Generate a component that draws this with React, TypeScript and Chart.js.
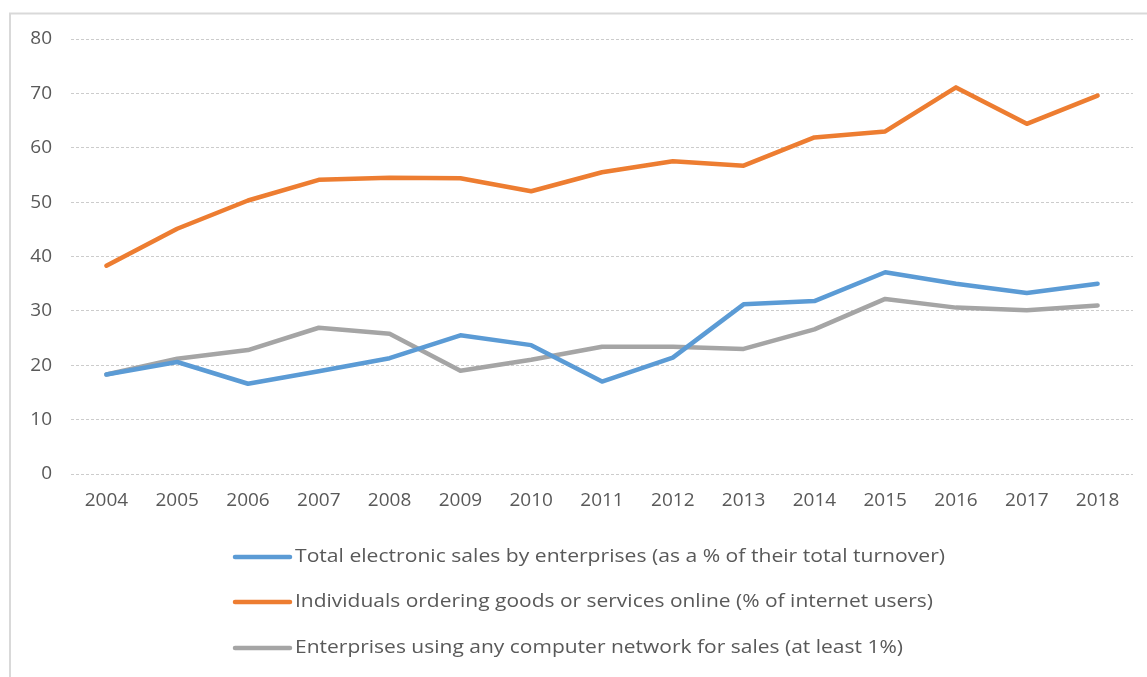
import React, { useEffect, useRef } from "react";
import { Chart, registerables } from "chart.js";

Chart.register(...registerables);

const years = ["2004", "2005", "2006", "2007", "2008", "2009", "2010", "2011", "2012", "2013", "2014", "2015", "2016", "2017", "2018"];
const electronicSales = [18.3, 20.6, 16.6, 18.9, 21.3, 25.5, 23.7, 17.0, 21.4, 31.2, 31.8, 37.1, 35.0, 33.3, 35.0];
const individualsOnline = [38.3, 45.1, 50.3, 54.1, 54.5, 54.4, 52.0, 55.5, 57.5, 56.7, 61.9, 63.0, 71.1, 64.4, 69.6];
const enterprisesNetwork = [18.3, 21.2, 22.8, 26.9, 25.8, 19.0, 21.0, 23.4, 23.4, 23.0, 26.6, 32.2, 30.6, 30.1, 31.0];
const seriesLabels = [
  "Total electronic sales by enterprises (as a % of their total turnover)",
  "Individuals ordering goods or services online (% of internet users)",
  "Enterprises using any computer network for sales (at least 1%)",
];
const seriesColors = ["#5B9BD5", "#ED7D31", "#A5A5A5"];
const yMin = 0;
const yMax = 80;
const yStep = 10;

const TEXT_COLOR = "#595959";
const FONT_FAMILY = '"Open Sans", "Noto Sans", sans-serif';

const framePlugin = {
  id: "frame",
  beforeDraw(chart: any) {
    const ctx = chart.ctx;
    ctx.save();
    ctx.fillStyle = "#ffffff";
    ctx.fillRect(0, 0, chart.width, chart.height);
    ctx.strokeStyle = "#d9d9d9";
    ctx.lineWidth = 2;
    ctx.beginPath();
    ctx.moveTo(10, chart.height);
    ctx.lineTo(10, 13.5);
    ctx.lineTo(chart.width, 13.5);
    ctx.stroke();
    ctx.restore();
  },
};

const legendRowsY = [557, 602, 648];
const legendTextWidths = [650, 638, 608];

const legendPlugin = {
  id: "customLegend",
  afterDraw(chart: any) {
    const ctx = chart.ctx;
    ctx.save();
    chart.data.datasets.forEach((ds: any, i: number) => {
      const y = legendRowsY[i];
      ctx.strokeStyle = ds.borderColor;
      ctx.lineWidth = 4.5;
      ctx.lineCap = "round";
      ctx.beginPath();
      ctx.moveTo(235, y);
      ctx.lineTo(290, y);
      ctx.stroke();
      ctx.font = `19px ${FONT_FAMILY}`;
      ctx.fillStyle = TEXT_COLOR;
      ctx.textBaseline = "middle";
      ctx.textAlign = "left";
      const w = ctx.measureText(ds.label).width;
      const s = legendTextWidths[i] / w;
      ctx.save();
      ctx.translate(295, y);
      ctx.scale(s, 1);
      ctx.fillText(ds.label, 0, 0);
      ctx.restore();
    });
    ctx.restore();
  },
};

export default function App() {
  const canvasRef = useRef<HTMLCanvasElement | null>(null);

  useEffect(() => {
    document.body.style.margin = "0";
    const canvas = canvasRef.current;
    if (!canvas) return;
    const seriesData = [electronicSales, individualsOnline, enterprisesNetwork];
    const chart = new Chart(canvas, {
      type: "line",
      data: {
        labels: years,
        datasets: seriesData.map((d, i) => ({
          label: seriesLabels[i],
          data: d,
          borderColor: seriesColors[i],
          backgroundColor: seriesColors[i],
          borderWidth: 4.5,
          pointRadius: 0,
          tension: 0,
          borderCapStyle: "round" as const,
          borderJoinStyle: "round" as const,
          fill: false,
        })),
      },
      options: {
        animation: false,
        responsive: false,
        devicePixelRatio: 1,
        layout: { padding: { left: 0, top: 39, right: 14, bottom: 163 } },
        plugins: {
          legend: { display: false },
          tooltip: { enabled: false },
        },
        scales: {
          x: {
            offset: true,
            grid: { display: false, drawTicks: false },
            border: { display: false },
            ticks: {
              color: TEXT_COLOR,
              font: { family: FONT_FAMILY, size: 19 },
              padding: 15,
              maxRotation: 0,
              autoSkip: false,
            },
            afterFit: (axis: any) => {
              axis.height = 40;
            },
          },
          y: {
            min: yMin,
            max: yMax,
            grid: { color: "#cccccc", lineWidth: 1, drawTicks: false },
            border: { display: false, dash: [3, 2] },
            ticks: {
              stepSize: yStep,
              color: TEXT_COLOR,
              font: { family: FONT_FAMILY, size: 19 },
              padding: 19,
            },
            afterFit: (axis: any) => {
              axis.width = 71;
            },
          },
        },
      },
      plugins: [framePlugin, legendPlugin],
    });
    return () => chart.destroy();
  }, []);

  return (
    <div style={{ position: "fixed", left: 0, top: 0, width: 1147, height: 677, background: "#fff" }}>
      <canvas ref={canvasRef} width={1147} height={677} />
    </div>
  );
}
